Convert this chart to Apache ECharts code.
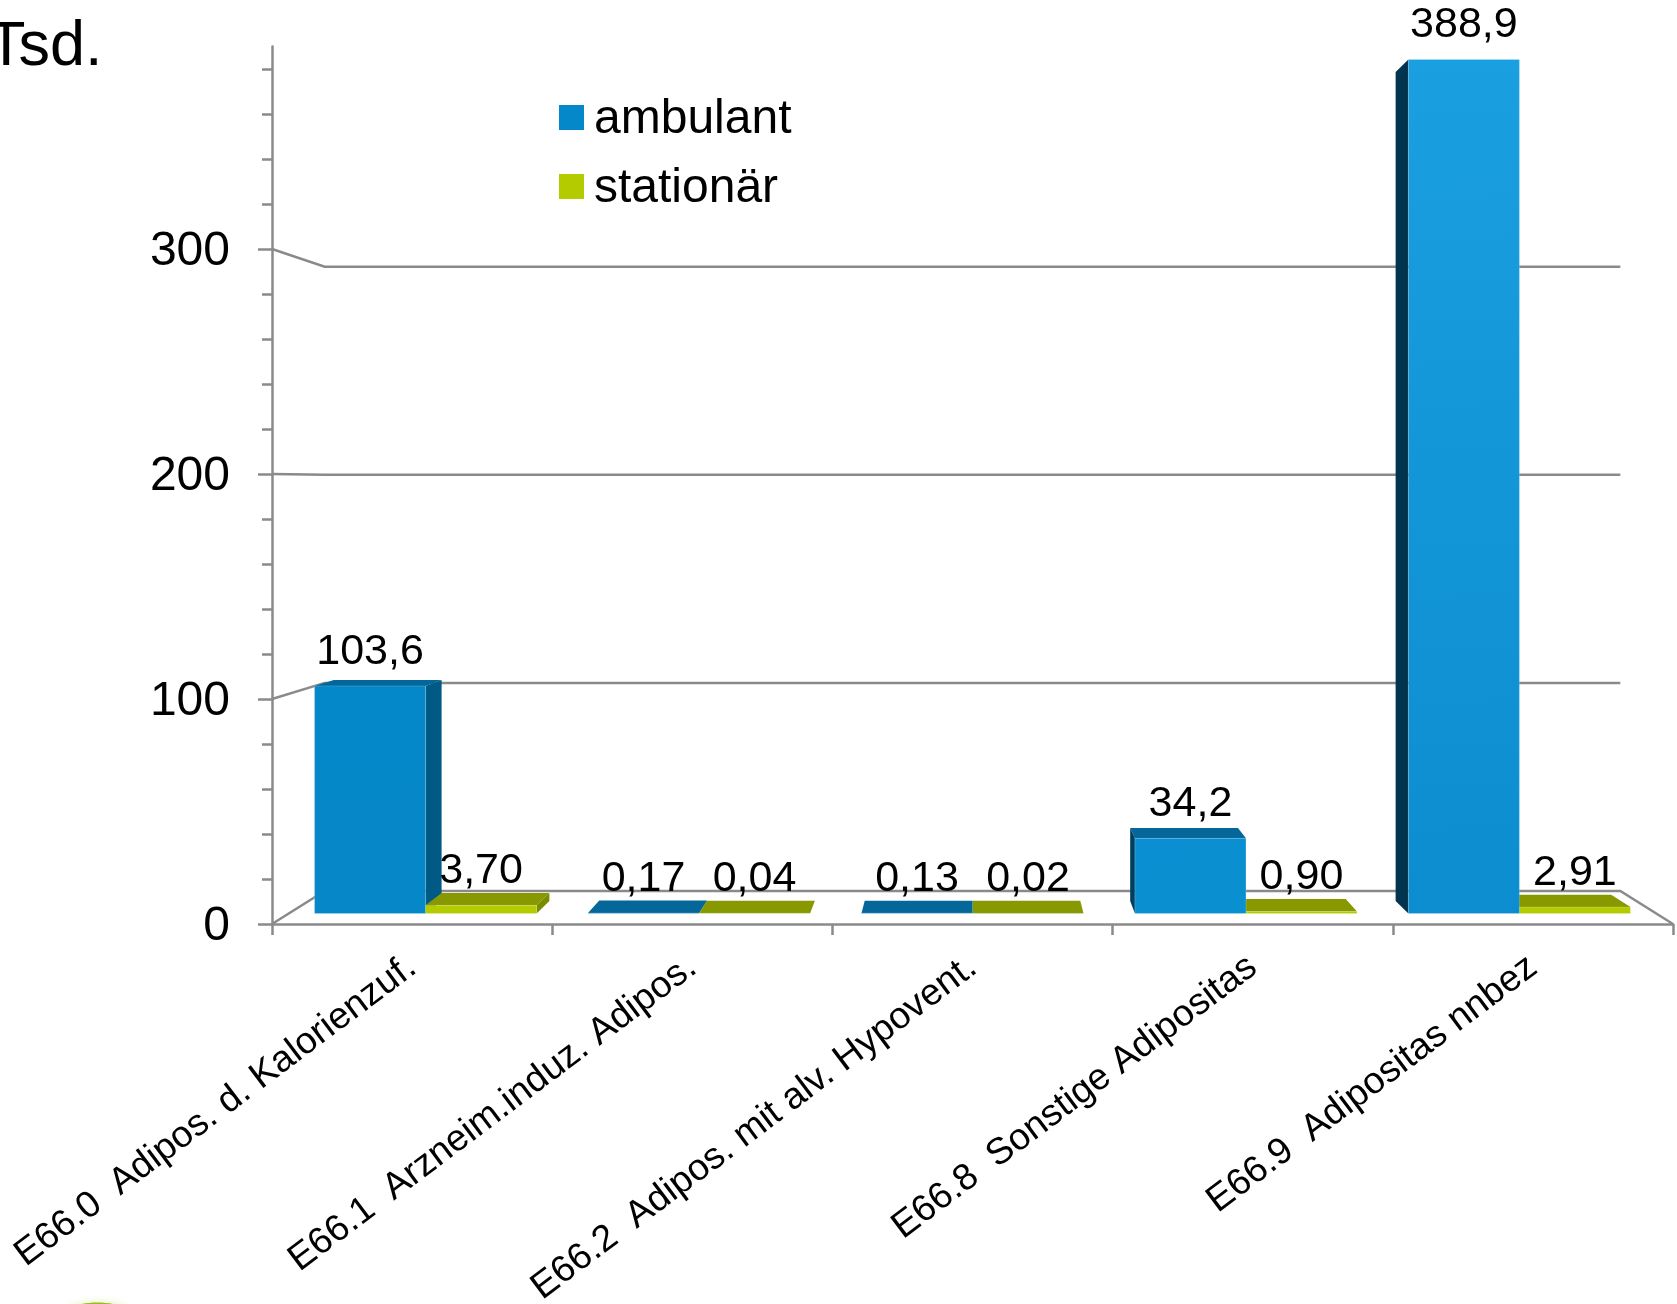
<!DOCTYPE html>
<html>
<head>
<meta charset="utf-8">
<title>Adipositas</title>
<script src="https://cdn.jsdelivr.net/npm/echarts@6/dist/echarts.min.js"></script>
<style>html,body{margin:0;padding:0;background:#fff}#chart{width:1677px;height:1304px}</style>
</head>
<body>
<div id="chart"></div>
<script>
const categories = [
  'E66.0  Adipos. d. Kalorienzuf.',
  'E66.1  Arzneim.induz. Adipos.',
  'E66.2  Adipos. mit alv. Hypovent.',
  'E66.8  Sonstige Adipositas',
  'E66.9  Adipositas nnbez'
];
const ambulant = [103.6, 0.17, 0.13, 34.2, 388.9];
const stationaer = [3.70, 0.04, 0.02, 0.90, 2.91];
const majorTicks = [0, 100, 200, 300];
const minorTicks = [20, 40, 60, 80, 120, 140, 160, 180, 220, 240, 260, 280, 320, 340, 360, 380];
const wallLines = [0, 100, 200, 300];

// Face colours per category: front top, front bottom, side, top
const blueFaces = [
  ['#0588c9', '#0587c8', '#015a86', '#02679a'],
  ['#0588c9', '#0587c8', '#015a86', '#046699'],
  ['#0588c9', '#0587c8', '#015a86', '#046699'],
  ['#0a90d2', '#0a8fd1', '#013f62', '#046699'],
  ['#1a9fe0', '#0c8dd0', '#03344f', '#046699']
];
const greenFaces = ['#b4cb00', '#b4cb00', '#7b8b00', '#889800'];

const FONT = '"Liberation Sans", Arial, sans-serif';
const AXIS_GREY = '#8a8a8a';
const LINE = 2.5;
const DEPTH = 0.0752;      // shrink of the back wall towards the vanishing point
const BAR_FRONT = 0.32;    // depth of a bar's front face
const BAR_BACK = 0.7;      // depth of a bar's back face
const BAR_SHARE = 0.406;   // bar width as a share of a category band

function project(cs, x, y, t) {
  const cx = cs.x + cs.width / 2, cy = cs.y + cs.height / 2;
  const s = 1 - DEPTH * t;
  return [cx + (x - cx) * s, cy + (y - cy) * s];
}

function formatValue(v) {
  return (v >= 10 ? v.toFixed(1) : v.toFixed(2)).replace('.', ',');
}

function poly(points, fill, z2, stroke) {
  return {
    type: 'polygon',
    shape: { points: points },
    style: { fill: fill, stroke: stroke || null, lineWidth: stroke ? 1 : 0 },
    z2: z2
  };
}

function barRenderer(isBlue) {
  return function (params, api) {
    const i = api.value(0), v = api.value(1), cs = params.coordSys;
    const band = api.size([1, 0])[0];
    const w = band * BAR_SHARE;
    const base = api.coord([i, 0]);
    const top = api.coord([i, v]);
    const x0 = isBlue ? base[0] - w : base[0];
    const x1 = x0 + w;
    const z = isBlue ? 10 : (base[0] < cs.x + cs.width / 2 - 1 ? 20 : 5);
    const c = isBlue ? blueFaces[i] : greenFaces;

    const p = (x, y, t) => project(cs, x, y, t);
    const fl = p(x0, base[1], BAR_FRONT), fr = p(x1, base[1], BAR_FRONT);
    const tl = p(x0, top[1], BAR_FRONT), tr = p(x1, top[1], BAR_FRONT);
    const bbl = p(x0, base[1], BAR_BACK), bbr = p(x1, base[1], BAR_BACK);
    const btl = p(x0, top[1], BAR_BACK), btr = p(x1, top[1], BAR_BACK);

    const children = [];
    if (btl[1] < tl[1]) children.push(poly([tl, tr, btr, btl], c[3], z));
    if (btr[0] > tr[0]) children.push(poly([tr, fr, bbr, btr], c[2], z + 1));
    if (btl[0] < tl[0]) children.push(poly([tl, fl, bbl, btl], c[2], z + 1));
    children.push(poly([tl, tr, fr, fl], new echarts.graphic.LinearGradient(0, 0, 0.3, 1, [
      { offset: 0, color: c[0] }, { offset: 1, color: c[1] }
    ]), z + 2, 'rgba(255,255,255,0.18)'));
    children.push({
      type: 'text',
      style: {
        text: formatValue(v),
        x: (tl[0] + tr[0]) / 2,
        y: tl[1] - 34,
        fill: '#000',
        fontSize: 43,
        fontFamily: FONT,
        align: 'center',
        verticalAlign: 'middle'
      },
      z2: 50
    });
    return { type: 'group', children: children };
  };
}

// Left wall, back wall and floor outline
function wallRenderer(params, api) {
  const v = api.value(0), cs = params.coordSys;
  const y = api.coord([0, v])[1];
  const left = cs.x, right = cs.x + cs.width;
  const a = [left, y], b = project(cs, left, y, 1), c = project(cs, right, y, 1);
  const pts = v === 0 ? [a, b, c, [right, y]] : [a, b, c];
  return {
    type: 'polyline',
    shape: { points: pts },
    style: { stroke: AXIS_GREY, lineWidth: LINE, fill: null }
  };
}

const chart = echarts.init(document.getElementById('chart'), null, { renderer: 'canvas' });
chart.setOption({
  animation: false,
  backgroundColor: '#fff',
  title: {
    text: 'Tsd.',
    left: -18,
    top: 11,
    textStyle: { fontFamily: FONT, fontSize: 63, fontWeight: 'normal', color: '#000' }
  },
  legend: {
    orient: 'vertical',
    left: 554,
    top: 91,
    itemWidth: 25,
    itemHeight: 25,
    itemGap: 21,
    icon: 'rect',
    selectedMode: false,
    data: ['ambulant', 'stationär'],
    formatter: name => '{t|' + name + '}',
    textStyle: {
      fontFamily: FONT,
      fontSize: 48,
      color: '#000',
      rich: { t: { fontFamily: FONT, fontSize: 48, color: '#000', padding: [5, 0, 0, 5] } }
    }
  },
  graphic: [{
    type: 'ellipse',
    shape: { cx: 97.5, cy: 1319, rx: 38, ry: 16.5 },
    style: { fill: '#9cba1e', shadowBlur: 8, shadowColor: 'rgba(200,220,80,0.4)' },
    silent: true
  }],
  grid: { left: 272, top: 46.5, width: 1401, height: 877.5, containLabel: false, outerBoundsMode: 'none' },
  xAxis: {
    type: 'category',
    data: categories,
    axisLine: { lineStyle: { color: AXIS_GREY, width: LINE } },
    axisTick: { show: true, length: 11, lineStyle: { color: AXIS_GREY, width: LINE } },
    axisLabel: {
      interval: 0,
      rotate: 37,
      margin: 39,
      color: '#000',
      fontFamily: FONT,
      fontSize: 37.3
    }
  },
  yAxis: [
    {
      type: 'value',
      min: 0,
      max: 390,
      axisLine: { show: true, lineStyle: { color: AXIS_GREY, width: LINE } },
      axisTick: { show: true, length: 14, customValues: majorTicks, lineStyle: { color: AXIS_GREY, width: LINE } },
      axisLabel: { customValues: majorTicks, margin: 42, color: '#000', fontFamily: FONT, fontSize: 48, verticalAlign: 'top', lineHeight: 6 },
      splitLine: { show: false }
    },
    {
      type: 'value',
      position: 'left',
      min: 0,
      max: 390,
      axisLine: { show: false },
      axisTick: { show: true, length: 10, customValues: minorTicks, lineStyle: { color: AXIS_GREY, width: LINE } },
      axisLabel: { show: false },
      splitLine: { show: false }
    }
  ],
  series: [
    {
      name: 'walls',
      type: 'custom',
      z: 1,
      silent: true,
      clip: false,
      data: wallLines.map(v => [v]),
      encode: { y: 0 },
      renderItem: wallRenderer
    },
    {
      name: 'ambulant',
      type: 'custom',
      z: 2,
      clip: false,
      itemStyle: { color: '#0588c9' },
      data: ambulant.map((v, i) => [i, v]),
      encode: { x: 0, y: 1 },
      renderItem: barRenderer(true)
    },
    {
      name: 'stationär',
      type: 'custom',
      z: 2,
      clip: false,
      itemStyle: { color: '#b4cb00' },
      data: stationaer.map((v, i) => [i, v]),
      encode: { x: 0, y: 1 },
      renderItem: barRenderer(false)
    }
  ]
});
</script>
</body>
</html>
